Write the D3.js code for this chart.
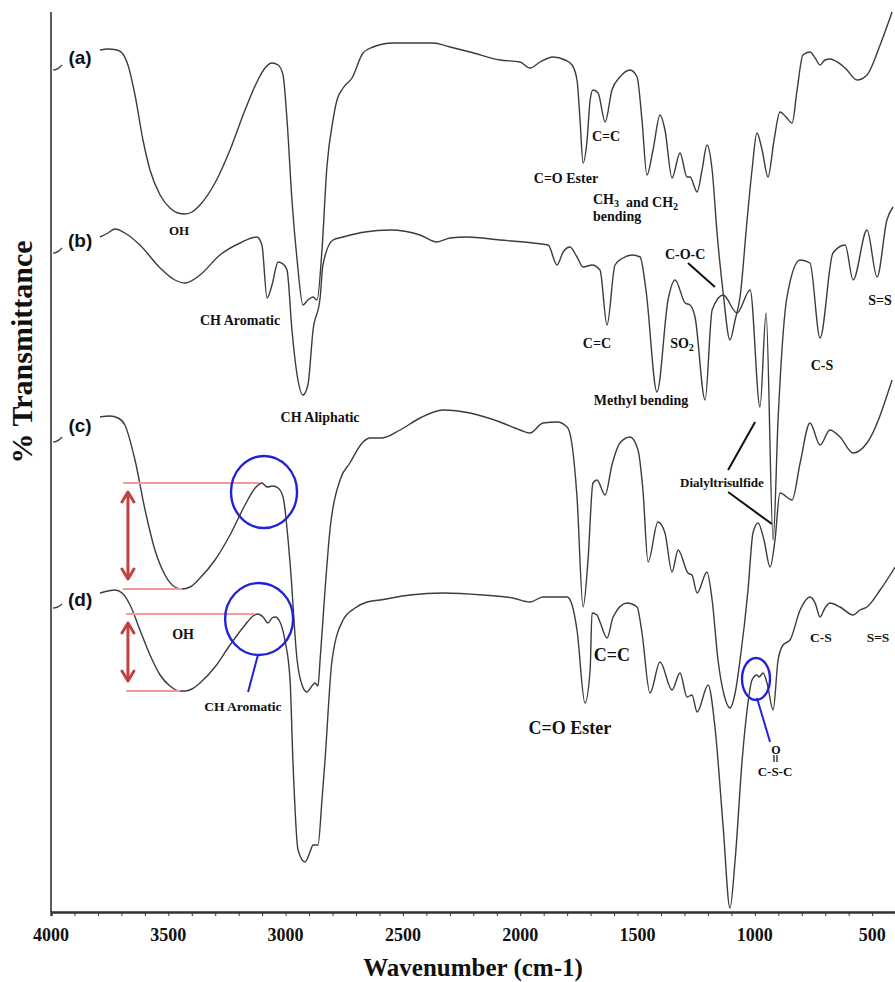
<!DOCTYPE html>
<html>
<head>
<meta charset="utf-8">
<script src="https://cdn.jsdelivr.net/npm/d3@7"></script>
<style>
  body { margin: 0; background: #fff; }
  svg { display: block; }
</style>
</head>
<body>
<svg id="chart" width="895" height="982"></svg>
<script>
// FTIR spectra, stacked with offsets: [wavenumber (cm-1), % transmittance (offset units)]
const spectrumA = [
  [3791,86.2],[3757,86.3],[3719,86.2],[3697,85.9],[3672,84.7],[3642,81.7],[3608,77.2],[3578,74.2],
  [3535,71.7],[3493,70.4],[3459,69.9],[3429,69.8],[3399,70.0],[3365,70.7],[3301,72.9],[3237,76.2],
  [3173,80.2],[3118,83.2],[3088,84.4],[3058,84.9],[3032,84.7],[3011,83.7],[2994,79.2],[2973,71.2],
  [2951,65.2],[2926,60.7],[2905,61.2],[2883,61.5],[2866,61.2],[2845,66.2],[2824,74.5],[2798,79.2],
  [2781,81.2],[2755,82.4],[2717,83.4],[2670,85.9],[2627,86.5],[2542,86.9],[2457,86.9],[2372,86.9],
  [2299,86.5],[2214,86.0],[2086,85.2],[2001,85.0],[1958,84.4],[1916,85.0],[1860,85.5],[1809,85.2],
  [1779,84.7],[1758,83.2],[1745,79.2],[1732,74.9],[1715,77.2],[1702,81.2],[1690,82.2],[1668,81.9],
  [1638,79.0],[1609,82.2],[1575,83.5],[1532,84.2],[1502,83.5],[1481,79.2],[1460,73.7],[1434,76.2],
  [1404,79.7],[1383,78.2],[1353,73.4],[1319,75.9],[1289,73.5],[1276,73.5],[1246,72.0],[1225,74.2],
  [1204,76.7],[1182,74.2],[1161,67.9],[1135,61.9],[1106,57.2],[1084,59.2],[1063,61.5],[1033,69.2],
  [1012,74.2],[991,77.9],[969,76.2],[944,73.5],[918,77.2],[893,80.0],[867,79.5],[841,78.9],
  [820,82.2],[795,85.7],[765,86.0],[743,85.4],[722,84.7],[701,85.2],[680,85.3],[615,84.4],
  [564,83.2],[522,83.7],[466,86.7],[415,90.0]
];

const spectrumB = [
  [3791,67.5],[3757,67.9],[3727,68.3],[3685,67.9],[3621,66.7],[3535,64.4],[3472,63.2],[3429,62.9],
  [3365,63.7],[3280,65.7],[3194,66.9],[3122,67.5],[3101,66.7],[3079,61.4],[3058,62.7],[3032,65.0],
  [3011,64.8],[2994,64.2],[2973,58.2],[2951,53.7],[2926,51.7],[2905,52.7],[2883,58.2],[2853,61.4],
  [2841,64.7],[2798,67.2],[2755,67.5],[2662,68.0],[2555,68.2],[2427,67.7],[2355,67.0],[2299,67.4],
  [2227,67.5],[2086,67.2],[1945,66.9],[1881,66.7],[1843,64.7],[1817,66.0],[1788,66.5],[1758,65.5],
  [1732,64.5],[1694,64.7],[1660,64.2],[1630,58.7],[1596,64.7],[1562,65.4],[1523,65.7],[1489,65.5],
  [1464,62.2],[1417,52.0],[1370,61.2],[1340,63.2],[1297,60.9],[1276,60.7],[1255,59.5],[1212,51.2],
  [1182,60.2],[1135,61.7],[1076,59.9],[1020,62.2],[978,50.5],[952,59.9],[922,37.2],[901,49.2],
  [863,61.5],[807,65.2],[765,64.9],[722,57.4],[667,65.9],[615,66.7],[581,63.2],[522,68.2],
  [479,63.5],[437,69.2],[411,70.5]
];

const spectrumC = [
  [3791,49.5],[3749,49.6],[3714,49.4],[3685,48.7],[3642,45.2],[3599,40.2],[3557,36.2],[3514,33.7],
  [3472,32.5],[3442,32.3],[3407,32.5],[3365,33.4],[3301,35.2],[3237,37.7],[3173,40.7],[3130,42.4],
  [3101,42.9],[3079,42.5],[3054,42.6],[3032,42.4],[3011,41.5],[2981,34.9],[2951,25.2],[2930,22.7],
  [2909,22.0],[2888,22.6],[2875,22.9],[2862,22.6],[2853,25.2],[2832,32.2],[2811,38.2],[2768,43.2],
  [2726,44.9],[2670,47.0],[2640,47.4],[2589,47.4],[2512,48.2],[2427,49.4],[2329,50.2],[2214,49.9],
  [2086,49.0],[2001,48.2],[1958,47.9],[1903,48.9],[1843,49.0],[1800,48.5],[1779,46.7],[1758,41.5],
  [1732,30.5],[1711,35.2],[1690,42.9],[1673,43.2],[1638,41.7],[1609,44.7],[1575,46.9],[1532,47.5],
  [1498,46.2],[1477,42.2],[1455,35.0],[1413,39.0],[1383,37.9],[1353,34.0],[1327,36.2],[1285,33.9],
  [1268,33.7],[1246,31.9],[1204,34.0],[1182,31.2],[1157,25.2],[1131,21.7],[1106,20.4],[1084,21.9],
  [1063,25.2],[1029,32.2],[1008,37.9],[986,38.9],[961,37.2],[935,34.5],[914,37.2],[893,41.9],
  [841,41.2],[807,44.9],[765,48.9],[722,46.7],[680,48.2],[637,47.5],[581,45.9],[522,46.9],
  [415,53.2]
];

const spectrumD = [
  [3791,31.9],[3757,32.1],[3727,32.2],[3697,31.9],[3663,30.7],[3621,28.2],[3578,25.7],[3535,23.7],
  [3493,22.6],[3450,22.1],[3429,22.1],[3399,22.3],[3365,22.9],[3301,24.5],[3237,26.7],[3173,28.7],
  [3139,29.6],[3118,29.8],[3096,29.5],[3075,28.9],[3058,29.4],[3045,29.5],[3024,29.0],[3003,27.2],
  [2981,23.2],[2969,15.2],[2947,6.2],[2917,5.0],[2896,6.0],[2883,6.7],[2862,6.7],[2845,11.2],
  [2832,15.2],[2802,25.2],[2755,29.2],[2704,30.4],[2653,31.0],[2598,31.2],[2470,31.7],[2329,31.9],
  [2159,31.7],[2031,31.4],[1958,31.0],[1903,31.5],[1800,31.5],[1779,30.7],[1758,28.2],[1724,20.9],
  [1702,24.2],[1694,29.9],[1673,29.7],[1660,29.0],[1630,27.4],[1604,29.5],[1545,30.9],[1502,30.5],
  [1481,27.9],[1447,21.9],[1404,25.0],[1353,22.2],[1319,23.9],[1289,21.5],[1268,21.7],[1246,20.0],
  [1199,22.7],[1170,18.5],[1135,8.5],[1106,0.4],[1084,5.2],[1054,15.2],[1033,20.2],[1012,23.2],
  [991,23.7],[982,23.5],[965,23.9],[948,22.9],[922,20.2],[901,25.2],[880,26.7],[850,27.2],
  [807,30.2],[765,31.5],[743,30.9],[722,29.5],[701,30.4],[680,30.9],[637,30.5],[581,29.7],
  [552,30.2],[522,30.5],[466,32.2],[402,34.5]
];

const tickLabels = [4000, 3500, 3000, 2500, 2000, 1500, 1000, 500];

// sample letters placed next to each trace, with the small offset marks at the axis
const sampleNames = ["(a)", "(b)", "(c)", "(d)"];
const sampleLabelT = [85.5, 67.2, 48.7, 31.3];
const offsetMarkT = [[84.2, 84.7], [65.9, 66.4], [47.0, 47.5], [30.4, 30.8]];

// band assignments: text, wavenumber, transmittance, font size, anchor
const bandLabels = [
  ["OH", 3454, 68.2, 13, "middle"],
  ["CH Aromatic", 3194, 59.2, 14, "middle"],
  ["CH Aliphatic", 2853, 49.5, 14, "middle"],
  ["C=O Ester", 1805, 73.4, 14, "middle"],
  ["C=C", 1634, 77.6, 14, "middle"],
  ["bending", 1690, 69.6, 14, "start"],
  ["C-O-C", 1297, 65.8, 14, "middle"],
  ["C=C", 1673, 56.9, 14, "middle"],
  ["Methyl bending", 1485, 51.2, 14, "middle"],
  ["C-S", 714, 54.7, 14, "middle"],
  ["S=S", 466, 61.2, 14, "middle"],
  ["Dialyltrisulfide", 1140, 43.0, 13, "middle"],
  ["OH", 3437, 27.8, 14, "middle"],
  ["CH Aromatic", 3182, 20.6, 13.5, "middle"],
  ["C=C", 1609, 25.7, 18, "middle"],
  ["C=O Ester", 1788, 18.4, 18, "middle"],
  ["C-S", 718, 27.5, 13.5, "middle"],
  ["S=S", 475, 27.5, 13.5, "middle"],
  ["O", 910, 16.2, 12, "middle"],
  ["C-S-C", 914, 14.1, 13, "middle"]
];

// labels with subscripts: [text, subscript] segments
const subscriptLabels = [
  { wn: 1690, t: 71.3, size: 14, parts: [["CH", "3"], ["  and CH", "2"]] },
  { wn: 1361, t: 56.9, size: 14, parts: [["SO", "2"]] }
];

// leader lines from labels to bands [wn1, t1, wn2, t2, colour]
const leaderLines = [
  [1285, 64.9, 1170, 62.5, "#111"],
  [1114, 44.2, 999, 49.0, "#111"],
  [1114, 42.0, 927, 38.8, "#111"],
  [991, 21.4, 935, 17.0, "#2323d6"],
  [3118, 25.7, 3160, 22.0, "#2323d6"]
];

// highlighted regions: centre wavenumber, centre transmittance, radii (px)
const highlightRings = [
  [3092, 42.0, 33, 36],
  [3113, 29.3, 34, 36],
  [995, 23.3, 14, 21]
];

// O–H depth markers for traces (c) and (d)
const depthMarkers = [
  { series: spectrumC, startWn: 3693, arrowWn: 3672 },
  { series: spectrumD, startWn: 3680, arrowWn: 3672 }
];

const serif = "'Liberation Serif','Times New Roman',serif";
const sans = "'Liberation Sans',Arial,sans-serif";

const svg = d3.select("#chart");
const x = d3.scaleLinear().domain([4000, 400]).range([51, 895.6]);
const y = d3.scaleLinear().domain([0, 90]).range([912, 12]);

// axes
svg.append("line")
  .attr("x1", x(4000)).attr("x2", x(4000))
  .attr("y1", y(90)).attr("y2", y(0))
  .attr("stroke", "#333").attr("stroke-width", 1.6);

const xAxis = svg.append("g").attr("transform", `translate(0,${y(0)})`)
  .call(d3.axisBottom(x).tickValues(d3.range(4000, 399, -100)).tickSize(4).tickFormat(""));
xAxis.select(".domain").attr("stroke", "#333").attr("stroke-width", 2.4);
xAxis.selectAll(".tick line").attr("stroke", "#333").attr("stroke-width", 1);

svg.append("g").selectAll("text").data(tickLabels).join("text")
  .attr("x", d => x(d)).attr("y", y(0) + 29)
  .attr("text-anchor", "middle")
  .attr("font-family", serif).attr("font-weight", "bold").attr("font-size", 18)
  .attr("fill", "#111").text(d => d);

svg.append("text")
  .attr("x", (x(4000) + 895) / 2).attr("y", y(0) + 64)
  .attr("text-anchor", "middle")
  .attr("font-family", serif).attr("font-weight", "bold").attr("font-size", 25)
  .attr("fill", "#111").text("Wavenumber (cm-1)");

svg.append("text")
  .attr("transform", `translate(32,${y(56)}) rotate(-90)`)
  .attr("text-anchor", "middle")
  .attr("font-family", serif).attr("font-weight", "bold").attr("font-size", 30)
  .attr("fill", "#111").text("% Transmittance");

// spectra
const line = d3.line().x(d => x(d[0])).y(d => y(d[1])).curve(d3.curveMonotoneX);
const spectra = [spectrumA, spectrumB, spectrumC, spectrumD];
svg.append("g").selectAll("path").data(spectra).join("path")
  .attr("d", line)
  .attr("fill", "none").attr("stroke", "#3c3c3c").attr("stroke-width", 1.4)
  .attr("stroke-linejoin", "round");

// sample letters and offset marks
svg.append("g").selectAll("text").data(sampleNames).join("text")
  .attr("x", x(3876)).attr("y", (d, i) => y(sampleLabelT[i]))
  .attr("dy", "0.36em").attr("text-anchor", "middle")
  .attr("font-family", sans).attr("font-weight", "bold").attr("font-size", 19)
  .attr("fill", "#111").text(d => d);

svg.append("g").selectAll("path").data(offsetMarkT).join("path")
  .attr("d", d => {
    const x0 = x(3991), x1 = x(3953);
    return `M${x0},${y(d[0])} Q${(x0 + x1) / 2},${y(d[0])} ${x1},${y(d[1])}`;
  })
  .attr("fill", "none").attr("stroke", "#444").attr("stroke-width", 1.3);

// depth markers: pink guide lines at the O–H minimum and the C–H shoulder, with a double arrow
const markerG = svg.append("g");
depthMarkers.forEach(m => {
  const oh = m.series.filter(d => d[0] > 3300 && d[0] < 3600);
  const ch = m.series.filter(d => d[0] > 3000 && d[0] < 3200);
  const lo = oh.reduce((a, b) => (b[1] < a[1] ? b : a));
  const hi = ch.reduce((a, b) => (b[1] > a[1] ? b : a));
  markerG.append("line")
    .attr("x1", x(m.startWn)).attr("x2", x(hi[0]) - 3)
    .attr("y1", y(hi[1])).attr("y2", y(hi[1]))
    .attr("stroke", "#f29a9a").attr("stroke-width", 2);
  markerG.append("line")
    .attr("x1", x(m.startWn)).attr("x2", x(lo[0]))
    .attr("y1", y(lo[1])).attr("y2", y(lo[1]))
    .attr("stroke", "#f29a9a").attr("stroke-width", 2);
  const ax = x(m.arrowWn), ay1 = y(hi[1]) + 9, ay2 = y(lo[1]) - 10;
  markerG.append("line")
    .attr("x1", ax).attr("x2", ax).attr("y1", ay1 + 1).attr("y2", ay2 - 1)
    .attr("stroke", "#c0413f").attr("stroke-width", 3);
  markerG.append("path")
    .attr("d", `M${ax - 6},${ay1 + 10} L${ax},${ay1} L${ax + 6},${ay1 + 10} M${ax - 6},${ay2 - 10} L${ax},${ay2} L${ax + 6},${ay2 - 10}`)
    .attr("fill", "none").attr("stroke", "#c0413f").attr("stroke-width", 3)
    .attr("stroke-linecap", "round").attr("stroke-linejoin", "round");
});

// highlight rings
svg.append("g").selectAll("ellipse").data(highlightRings).join("ellipse")
  .attr("cx", d => x(d[0])).attr("cy", d => y(d[1]))
  .attr("rx", d => d[2]).attr("ry", d => d[3])
  .attr("fill", "none").attr("stroke", "#2323d6").attr("stroke-width", 2.4);

// leader lines
svg.append("g").selectAll("line").data(leaderLines).join("line")
  .attr("x1", d => x(d[0])).attr("y1", d => y(d[1]))
  .attr("x2", d => x(d[2])).attr("y2", d => y(d[3]))
  .attr("stroke", d => d[4]).attr("stroke-width", 2);

// S=O double bond of the sulfoxide sketch
const sx = x(912);
svg.append("path")
  .attr("d", `M${sx - 1.5},${y(15.7)} V${y(15.0)} M${sx + 1.5},${y(15.7)} V${y(15.0)}`)
  .attr("stroke", "#111").attr("stroke-width", 1.2);

// band labels
svg.append("g").selectAll("text").data(bandLabels).join("text")
  .attr("x", d => x(d[1])).attr("y", d => y(d[2]))
  .attr("dy", "0.35em").attr("text-anchor", d => d[4])
  .attr("font-family", serif).attr("font-weight", "bold")
  .attr("font-size", d => d[3]).attr("fill", "#111")
  .text(d => d[0]);

subscriptLabels.forEach(s => {
  const t = svg.append("text")
    .attr("x", x(s.wn)).attr("y", y(s.t)).attr("dy", "0.35em")
    .attr("font-family", serif).attr("font-weight", "bold")
    .attr("font-size", s.size).attr("fill", "#111")
    .attr("xml:space", "preserve");
  s.parts.forEach(p => {
    t.append("tspan").text(p[0]);
    t.append("tspan").attr("font-size", s.size * 0.72).attr("dy", "0.3em").text(p[1]);
    t.append("tspan").attr("dy", "-0.22em").text("");
  });
});
</script>
</body>
</html>
